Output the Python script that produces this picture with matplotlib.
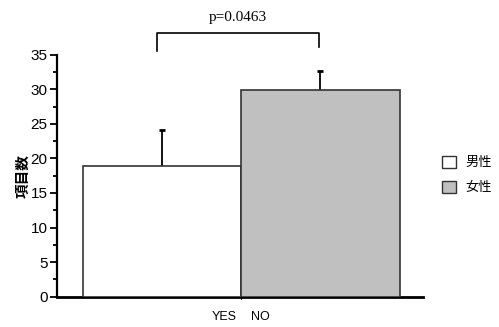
import numpy as np
import matplotlib.pyplot as plt
from matplotlib.patches import Patch
from matplotlib.transforms import ScaledTranslation

plt.rcParams['font.family'] = ['Liberation Sans', 'Noto Sans CJK JP']

# data
categories = ['YES', 'NO']
means = [18.9, 29.9]
err_up = [5.15, 2.8]
colors = ['white', '#c0c0c0']
legend_labels = ['男性', '女性']
p_text = 'p=0.0463'

fig = plt.figure(figsize=(4.99, 3.27), dpi=100)
ax = fig.add_axes([0.1148, 0.0927, 0.733, 0.74])

x = np.arange(len(categories))
# bars drawn over the error bars so only the upper half shows
ax.bar(x, means, width=1.0, color=colors, edgecolor='#333333', linewidth=1.2, zorder=3)
ax.errorbar(x, means, yerr=err_up, fmt='none', ecolor='black',
            elinewidth=1.3, capsize=2.2, capthick=2, zorder=2)

ax.set_xlim(-0.66, 1.647)
ax.set_ylim(0, 35)
ax.set_yticks(np.arange(0, 36, 5))
ax.set_yticks(np.arange(2.5, 35, 5), minor=True)
ax.tick_params(axis='y', which='major', direction='out', length=5, width=1.3,
               pad=2, labelsize=11)
ax.tick_params(axis='y', which='minor', direction='out', length=3, width=1.3)

# both labels sit at the join of the two bars
ax.set_xticks([0.4999, 0.5001])
ax.set_xticklabels(categories, fontsize=9)
ax.tick_params(axis='x', length=1.5, width=0.8, pad=9)
lbls = ax.get_xticklabels()
lbls[0].set_ha('right')
lbls[0].set_transform(lbls[0].get_transform() + ScaledTranslation(-4 / 100, 0, fig.dpi_scale_trans))
lbls[1].set_ha('left')
lbls[1].set_transform(lbls[1].get_transform() + ScaledTranslation(10 / 100, 0, fig.dpi_scale_trans))

for s in ['top', 'right']:
    ax.spines[s].set_visible(False)
ax.spines['left'].set_linewidth(1.6)
ax.spines['bottom'].set_linewidth(2.0)

ax.set_ylabel('項目数', fontsize=10.5, fontweight='bold', labelpad=0)

# significance bracket
ax.plot([x[0] - 0.03, x[0] - 0.03, x[1] - 0.01, x[1] - 0.01],
        [35.6, 38.2, 38.2, 36.1], color='black', lw=1.2, clip_on=False)
ax.text(0.48, 40.4, p_text, ha='center', va='center', fontsize=11,
        family='Liberation Serif')

handles = [Patch(facecolor=c, edgecolor='#333333', linewidth=1.0) for c in colors]
fig.legend(handles, legend_labels, loc='center left', bbox_to_anchor=(0.875, 0.465),
           frameon=False, fontsize=9.5, handlelength=1.1, handleheight=1.1,
           handletextpad=0.7, labelspacing=0.85, borderaxespad=0)

fig.savefig('out.png', dpi=100)
